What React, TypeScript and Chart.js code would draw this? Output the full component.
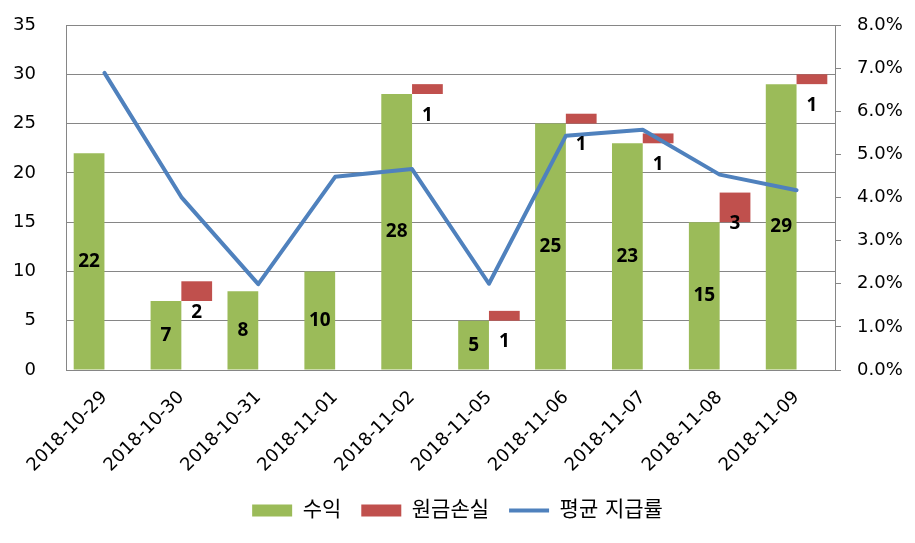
import React, { useEffect, useRef } from "react";
import { Chart, registerables } from "chart.js";

Chart.register(...registerables);

const categories = [
  "2018-10-29",
  "2018-10-30",
  "2018-10-31",
  "2018-11-01",
  "2018-11-02",
  "2018-11-05",
  "2018-11-06",
  "2018-11-07",
  "2018-11-08",
  "2018-11-09",
];
const profit = [22, 7, 8, 10, 28, 5, 25, 23, 15, 29];
const principalLoss: (number | null)[] = [null, 2, null, null, 1, 1, 1, 1, 3, 1];
const payoutRate = [6.89, 4.01, 1.99, 4.48, 4.66, 2.0, 5.43, 5.57, 4.53, 4.17];

const seriesNames = ["수익", "원금손실", "평균 지급률"];
const leftAxis = { min: 0, max: 35, step: 5 };
const rightAxis = { min: 0, max: 8, step: 1 };

const GREEN = "#9BBB59";
const RED = "#C0504D";
const BLUE = "#4F81BD";
const GRID = "#868686";
const FONT = "'DejaVu Sans', 'Noto Sans CJK KR', sans-serif";
const LABEL_FONT = "'Noto Sans', 'DejaVu Sans', sans-serif";

const labelPlugin = {
  id: "barValueLabels",
  afterDatasetsDraw(chart: any) {
    const ctx = chart.ctx;
    ctx.save();
    ctx.font = `bold 19px ${LABEL_FONT}`;
    ctx.fillStyle = "#000";
    ctx.textAlign = "center";
    ctx.textBaseline = "middle";
    const m0 = chart.getDatasetMeta(0);
    m0.data.forEach((el: any, i: number) => {
      const { x, y, base } = el.getProps(["x", "y", "base"], true);
      ctx.fillText(String(profit[i]), x, (y + base) / 2);
    });
    const m1 = chart.getDatasetMeta(1);
    m1.data.forEach((el: any, i: number) => {
      const v = principalLoss[i];
      if (v == null) return;
      const { x, y } = el.getProps(["x", "y"], true);
      ctx.fillText(String(v), x, y + 31);
    });
    ctx.restore();
  },
};

export default function App() {
  const ref = useRef<HTMLCanvasElement | null>(null);

  useEffect(() => {
    document.body.style.margin = "0";
    const canvas = ref.current;
    if (!canvas) return;
    Chart.defaults.font.family = FONT;
    Chart.defaults.font.size = 18;
    Chart.defaults.color = "#000";

    const lossBars = principalLoss.map((l, i) => (l == null ? null : [profit[i], profit[i] + l]));

    const chart = new Chart(canvas, {
      type: "bar",
      data: {
        labels: categories,
        datasets: [
          {
            type: "bar",
            label: seriesNames[0],
            data: profit,
            backgroundColor: GREEN,
            borderWidth: 0,
            categoryPercentage: 0.8,
            barPercentage: 1.0,
            yAxisID: "y",
            order: 1,
          },
          {
            type: "bar",
            label: seriesNames[1],
            data: lossBars as any,
            backgroundColor: RED,
            borderWidth: 0,
            categoryPercentage: 0.8,
            barPercentage: 1.0,
            yAxisID: "y",
            order: 2,
          },
          {
            type: "line",
            label: seriesNames[2],
            data: payoutRate,
            borderColor: BLUE,
            backgroundColor: BLUE,
            borderWidth: 4,
            pointRadius: 0,
            tension: 0,
            borderJoinStyle: "round",
            borderCapStyle: "round",
            yAxisID: "y1",
            order: 0,
          } as any,
        ],
      },
      options: {
        responsive: false,
        animation: false,
        layout: { padding: { top: 25, bottom: 12, left: 0, right: 0 } },
        plugins: {
          tooltip: { enabled: false },
          legend: {
            position: "bottom",
            labels: {
              usePointStyle: true,
              pointStyleWidth: 40,
              boxHeight: 12,
              padding: 20,
              color: "#000",
              font: { size: 21, family: FONT },
              sort: (a: any, b: any) => a.datasetIndex - b.datasetIndex,
              generateLabels: (chart: any) => {
                const items = Chart.defaults.plugins.legend.labels.generateLabels(chart);
                return items.map((it: any) => {
                  if (it.datasetIndex === 2) {
                    return { ...it, pointStyle: "line", lineWidth: 4, strokeStyle: BLUE, fillStyle: BLUE };
                  }
                  return { ...it, pointStyle: "rect", lineWidth: 0 };
                });
              },
            },
          },
        },
        scales: {
          x: {
            grid: { display: false },
            border: { display: true, color: GRID, width: 1 },
            ticks: {
              minRotation: 45,
              maxRotation: 45,
              autoSkip: false,
              padding: 9,
              color: "#000",
              font: { size: 18 },
            },
            afterFit: (s: any) => {
              s.height = 110;
            },
          },
          y: {
            position: "left",
            min: leftAxis.min,
            max: leftAxis.max,
            ticks: { stepSize: leftAxis.step, padding: 30, color: "#000", font: { size: 18 } },
            grid: { color: GRID, drawTicks: false, lineWidth: 1 },
            border: { display: true, color: GRID, width: 1 },
            afterFit: (s: any) => {
              s.width = 66;
              s.paddingTop = 0;
              s.paddingBottom = 0;
            },
          },
          y1: {
            position: "right",
            min: rightAxis.min,
            max: rightAxis.max,
            ticks: {
              stepSize: rightAxis.step,
              padding: 16,
              color: "#000",
              font: { size: 18 },
              callback: (v: any) => Number(v).toFixed(1) + "%",
            },
            grid: { drawOnChartArea: false, drawTicks: true, tickLength: 6, color: GRID },
            border: { display: true, color: GRID, width: 1 },
            afterFit: (s: any) => {
              s.width = 80;
              s.paddingTop = 0;
              s.paddingBottom = 0;
            },
          },
        },
      },
      plugins: [labelPlugin],
    });

    return () => chart.destroy();
  }, []);

  return (
    <div style={{ width: 915, height: 543, background: "#fff" }}>
      <canvas ref={ref} width={915} height={543} style={{ display: "block" }} />
    </div>
  );
}
